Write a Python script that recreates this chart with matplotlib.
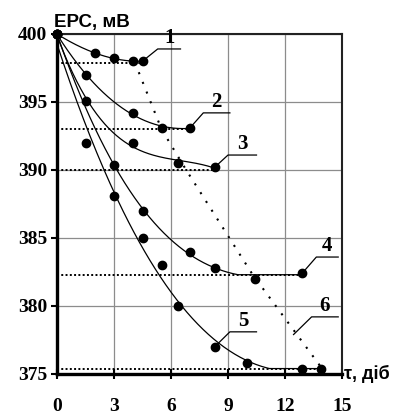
import numpy as np
import matplotlib
matplotlib.use("Agg")
import matplotlib.pyplot as plt

# Measured points (tau, days ; EMF, mV)
t1 = [0, 2.0, 3.0, 4.0, 4.5]
e1 = [400, 398.6, 398.2, 398.0, 398.0]
t2 = [0, 1.5, 4.0, 5.5, 7.0]
e2 = [400, 397.0, 394.2, 393.1, 393.1]
t3 = [0, 1.5, 4.0, 6.35, 8.3]
e3 = [400, 395.1, 392.0, 390.5, 390.2]
t4 = [0, 3.0, 4.5, 7.0, 8.3, 10.4, 12.9]
e4 = [400, 390.4, 387.0, 384.0, 382.8, 382.0, 382.4]
t5 = [0, 1.5, 3.0, 4.5, 5.55, 6.35, 8.3, 10.0, 12.9, 13.9]
e5 = [400, 392.0, 388.1, 385.0, 383.0, 380.0, 377.0, 375.8, 375.4, 375.4]

# Steady levels (dotted lines)
levels = [397.9, 393.0, 390.0, 382.3, 375.4]

# Curve 6: locus of the steady states
t6 = [4.1, 5.5, 6.8, 10.3, 13.93]
e6 = [397.9, 393.0, 390.0, 382.3, 375.44]

labels = ["1", "2", "3", "4", "5", "6"]

series = [(t1, e1), (t2, e2), (t3, e3), (t4, e4), (t5, e5)]

fig = plt.figure(figsize=(3.96, 4.17), dpi=100)
ax = fig.add_axes([57 / 396, 1 - 374 / 417, 285 / 396, 340 / 417])

serif = "Liberation Serif"
sans = "Liberation Sans"

for (t, e), lev in zip(series, levels):
    t = np.array(t)
    e = np.array(e)
    # smooth trend through the points, flat after its minimum
    coef = np.polyfit(t, e, 3)
    tt = np.linspace(0, t[-1], 200)
    ee = np.minimum.accumulate(np.polyval(coef, tt))
    ee = np.maximum(ee, lev)
    ax.plot(tt, ee, color="black", lw=0.9, zorder=3)
    ax.plot(t, e, "o", color="black", ms=6, zorder=4, clip_on=False)
    ax.plot([0, t[-1]], [lev, lev], color="black", lw=1.4,
            linestyle=(0, (1, 1.2)), zorder=2)

ax.plot(t6, e6, color="black", lw=1.5, linestyle=(0, (1, 4)), zorder=2)

# leader lines and curve numbers: (start x, start y, kink x, kink y, end x)
leaders = [
    (4.5, 398.0, 5.3, 398.9, 6.5),
    (7.0, 393.1, 7.7, 394.2, 9.1),
    (8.3, 390.2, 9.0, 391.1, 10.5),
    (12.9, 382.4, 13.65, 383.6, 14.8),
    (8.3, 377.0, 9.1, 378.1, 10.5),
    (12.45, 377.9, 13.4, 379.2, 14.8),
]
for (x0, y0, x1, y1, x2), lab in zip(leaders, labels):
    ax.plot([x0, x1, x2], [y0, y1, y1], color="black", lw=0.9, zorder=3)
    ax.text((x1 + x2) / 2, y1 + 0.05, lab, ha="center", va="bottom",
            fontsize=15, fontweight="bold", family=serif)

ax.set_xlim(0, 15)
ax.set_ylim(375, 400)
ax.set_xticks(range(0, 16, 3))
ax.set_yticks(range(375, 401, 5))
ax.grid(True, color="#8c8c8c", lw=0.9)
ax.set_axisbelow(True)

for s in ["left", "bottom"]:
    ax.spines[s].set_linewidth(2.4)
for s in ["top", "right"]:
    ax.spines[s].set_linewidth(1.5)
    ax.spines[s].set_color("#222222")

ax.tick_params(axis="y", direction="out", length=4, width=1.5, pad=3)
ax.tick_params(axis="x", direction="inout", length=7, width=1.5, pad=14)
for lab in ax.get_xticklabels() + ax.get_yticklabels():
    lab.set_fontfamily(serif)
    lab.set_fontweight("bold")
    lab.set_fontsize(14)

ax.text(-0.01, 1.035, "ЕРС, мВ", transform=ax.transAxes, ha="left",
        va="center", fontsize=13.5, fontweight="bold", family=sans)
ax.text(1.006, 0.0, "τ, діб", transform=ax.transAxes, ha="left",
        va="center", fontsize=13, fontweight="bold", family=sans)

fig.savefig("out.png", dpi=100)
